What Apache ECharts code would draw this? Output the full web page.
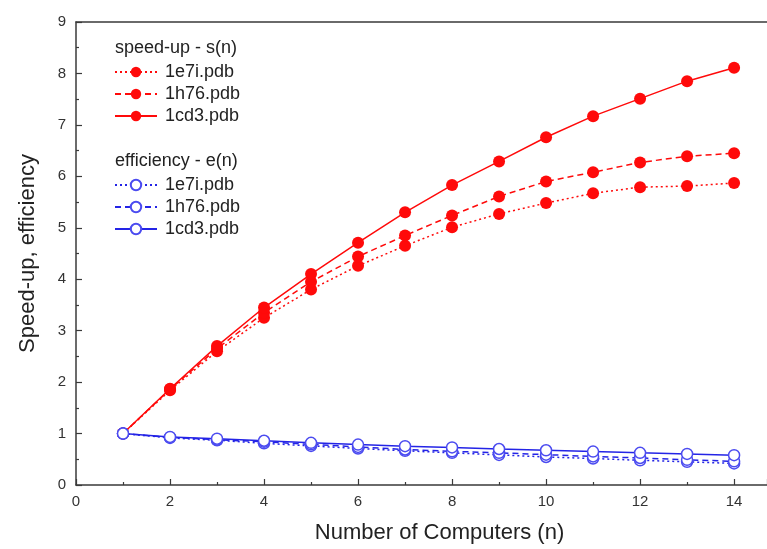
<!DOCTYPE html>
<html>
<head>
<meta charset="utf-8">
<script src="https://cdn.jsdelivr.net/npm/echarts@6/dist/echarts.min.js"></script>
<style>html,body{margin:0;padding:0;background:#fff}#c{width:767px;height:549px}</style>
</head>
<body>
<div id="c"></div>
<script>
var computers = [1,2,3,4,5,6,7,8,9,10,11,12,13,14];
var speedup_1e7i = [1,1.84,2.6,3.25,3.8,4.26,4.65,5.01,5.27,5.48,5.67,5.79,5.81,5.87];
var speedup_1h76 = [1,1.86,2.65,3.35,3.95,4.44,4.85,5.24,5.61,5.9,6.08,6.27,6.39,6.45];
var speedup_1cd3 = [1,1.87,2.7,3.45,4.1,4.71,5.3,5.83,6.29,6.76,7.17,7.51,7.85,8.11];
var eff_1e7i = [1,0.915,0.87,0.81,0.76,0.71,0.665,0.625,0.585,0.545,0.515,0.48,0.45,0.42];
var eff_1h76 = [1,0.925,0.88,0.84,0.79,0.74,0.69,0.655,0.625,0.59,0.555,0.525,0.49,0.46];
var eff_1cd3 = [1,0.935,0.9,0.86,0.82,0.785,0.755,0.73,0.7,0.675,0.65,0.625,0.605,0.58];
var xTicks = [0,2,4,6,8,10,12,14];
var yTicks = [0,1,2,3,4,5,6,7,8,9];
var legendNames = ['1e7i.pdb','1h76.pdb','1cd3.pdb'];

function pairs(ys){ return computers.map(function(x,i){ return [x, ys[i]]; }); }

var RED = '#ff0a0a', BLUE = '#2424e6';
var dashes = [[2,3],[6,4],'solid'];

function redSeries(name, ys, dash){
  return {name:'s '+name, type:'line', data:pairs(ys), symbol:'circle', symbolSize:12,
    itemStyle:{color:RED, borderWidth:0},
    lineStyle:{color:RED, width:1.5, type:dash}, z:2};
}
function blueSeries(name, ys, dash){
  return {name:'e '+name, type:'line', data:pairs(ys), symbol:'circle', symbolSize:11,
    itemStyle:{color:'#fff', borderColor:'#4b4bf0', borderWidth:1.5},
    lineStyle:{color:BLUE, width:1.5, type:dash}, z:3};
}

var series = [
  redSeries(legendNames[0], speedup_1e7i, dashes[0]),
  redSeries(legendNames[1], speedup_1h76, dashes[1]),
  redSeries(legendNames[2], speedup_1cd3, dashes[2]),
  blueSeries(legendNames[0], eff_1e7i, dashes[0]),
  blueSeries(legendNames[1], eff_1h76, dashes[1]),
  blueSeries(legendNames[2], eff_1cd3, dashes[2])
];

var FONT = 'Liberation Sans, Arial, sans-serif';
var AX = '#3a3a3a';

var legendBase = {
  orient:'vertical', left:109, itemWidth:42, itemHeight:13, itemGap:4,
  formatter:function(n){ return n.slice(2); },
  textStyle:{fontSize:18, lineHeight:18, color:'#222', padding:[0,0,0,3]}, selectedMode:false
};

var chart = echarts.init(document.getElementById('c'));
chart.setOption({
  animation:false,
  textStyle:{fontFamily:FONT},
  grid:{left:76, top:22, right:0, bottom:62, containLabel:false},
  xAxis:[{
    type:'value', min:0, max:14.7, interval:2,
    axisLine:{show:true, lineStyle:{color:AX, width:1.5}},
    axisTick:{show:true, inside:true, length:6, lineStyle:{color:AX, width:1.2}},
    minorTick:{show:true, splitNumber:2, length:3, lineStyle:{color:AX, width:1.2}},
    splitLine:{show:false},
    axisLabel:{color:'#333', fontSize:15, margin:9, showMaxLabel:false,
      formatter:function(v){ return xTicks.indexOf(v)>=0 ? String(v) : ''; }},
    name:'Number of Computers (n)', nameLocation:'middle', nameGap:37,
    nameTextStyle:{color:'#222', fontSize:22, padding:[0,0,0,36]}
  },{
    type:'value', min:0, max:14.7, position:'top',
    axisLine:{show:true, lineStyle:{color:AX, width:1.5}},
    axisTick:{show:false}, axisLabel:{show:false}, splitLine:{show:false}
  }],
  yAxis:{
    type:'value', min:0, max:9, interval:1,
    axisLine:{show:true, lineStyle:{color:AX, width:1.5}},
    axisTick:{show:true, inside:true, length:6, lineStyle:{color:AX, width:1.2}},
    minorTick:{show:true, splitNumber:2, length:3, lineStyle:{color:AX, width:1.2}},
    splitLine:{show:false},
    axisLabel:{color:'#333', fontSize:15, margin:10,
      formatter:function(v){ return yTicks.indexOf(v)>=0 ? String(v) : ''; }},
    name:'Speed-up, efficiency', nameLocation:'middle', nameGap:37, nameRotate:90,
    nameTextStyle:{color:'#222', fontSize:22}
  },
  legend:[
    Object.assign({}, legendBase, {top:58, data:series.slice(0,3).map(function(s){return s.name;})}),
    Object.assign({}, legendBase, {top:171, data:series.slice(3).map(function(s){return s.name;})})
  ],
  graphic:[
    {type:'text', left:115, top:39, style:{text:'speed-up - s(n)', font:'18px '+FONT, fill:'#222'}},
    {type:'text', left:115, top:152, style:{text:'efficiency - e(n)', font:'18px '+FONT, fill:'#222'}}
  ],
  series:series
});
</script>
</body>
</html>
